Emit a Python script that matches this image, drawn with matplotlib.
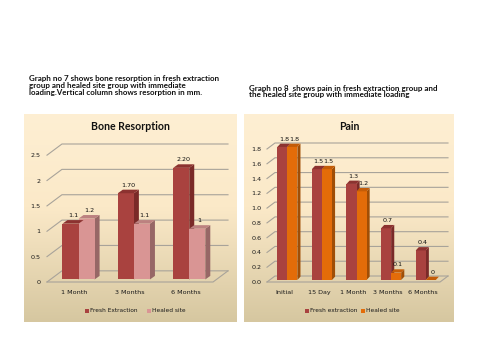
import numpy as np
import matplotlib
matplotlib.use("Agg")
import matplotlib.pyplot as plt
from matplotlib.patches import Polygon, Rectangle
from matplotlib.colors import LinearSegmentedColormap

# ---------------- data ----------------
bone_categories = ["1 Month", "3 Months", "6 Months"]
bone_fresh = [1.1, 1.70, 2.20]
bone_healed = [1.2, 1.1, 1.0]
bone_fresh_labels = ["1.1", "1.70", "2.20"]
bone_healed_labels = ["1.2", "1.1", "1"]
bone_yticks = [0, 0.5, 1, 1.5, 2, 2.5]
bone_yticklabels = ["0", "0.5", "1", "1.5", "2", "2.5"]

pain_categories = ["Initial", "15 Day", "1 Month", "3 Months", "6 Months"]
pain_fresh = [1.8, 1.5, 1.3, 0.7, 0.4]
pain_healed = [1.8, 1.5, 1.2, 0.1, 0.0]
pain_fresh_labels = ["1.8", "1.5", "1.3", "0.7", "0.4"]
pain_healed_labels = ["1.8", "1.5", "1.2", "0.1", "0"]
pain_yticks = [0.0, 0.2, 0.4, 0.6, 0.8, 1.0, 1.2, 1.4, 1.6, 1.8]
pain_yticklabels = ["0.0", "0.2", "0.4", "0.6", "0.8", "1.0", "1.2", "1.4", "1.6", "1.8"]

caption7 = ("Graph no 7 shows bone resorption in fresh extraction\n"
            "group and healed site group with immediate\n"
            "loading.Vertical column shows resorption in mm.")
caption8 = ("Graph no 8  shows pain in fresh extraction group and\n"
            "the healed site group with immediate loading")

W, H = 480, 360
fig = plt.figure(figsize=(4.8, 3.6), dpi=100)
fig.patch.set_facecolor("white")


def rect(x0, y0, x1, y1):
    """pixel box (top-left origin) -> figure fraction rect"""
    return [x0 / W, 1 - y1 / H, (x1 - x0) / W, (y1 - y0) / H]


cmap = LinearSegmentedColormap.from_list(
    "bg", [(0.0, "#FEEFD3"), (0.45, "#FBE9C8"), (1.0, "#D6C7A0")])


def background(box):
    bg = fig.add_axes(rect(*box))
    grad = np.linspace(0, 1, 256).reshape(-1, 1)
    bg.imshow(grad, aspect="auto", cmap=cmap, extent=[0, 1, 0, 1], origin="upper")
    bg.set_axis_off()
    return bg


def draw_chart(box, axbox, ncat, ymax, wall, bar_w, mid, bdepth, cats,
               fresh, healed, flabels, hlabels, yticks, yticklabels,
               c_fresh, c_healed, title, leg_names, leg_x, ytick_pad):
    background(box)
    ax = fig.add_axes(rect(*axbox))
    wdx, wdy = wall
    x0, x1 = -0.5, ncat - 0.5
    ax.set_xlim(x0, x1 + wdx)
    ax.set_ylim(0, ymax + wdy)
    for s in ax.spines.values():
        s.set_visible(False)
    ax.patch.set_alpha(0)
    gcol = "#A8A39A"
    # walls / gridlines
    for v in yticks:
        ax.plot([x0, x0 + wdx, x1 + wdx], [v, v + wdy, v + wdy],
                color=gcol, lw=0.8, clip_on=False, zorder=1)
    ax.plot([x0, x1, x1 + wdx], [0, 0, wdy], color=gcol, lw=0.8,
            clip_on=False, zorder=1)
    # bars
    mdx, mdy = mid
    bdx, bdy = bdepth
    xs = np.arange(ncat)
    for vals, labs, cols, off in ((fresh, flabels, c_fresh, -bar_w),
                                  (healed, hlabels, c_healed, 0.0)):
        front, top, side = cols
        bars = ax.bar(xs + off + mdx, vals, width=bar_w, bottom=mdy,
                      align="edge", color=front, edgecolor="none",
                      zorder=3, clip_on=False)
        for b, lab in zip(bars, labs):
            xl = b.get_x()
            xr = xl + b.get_width()
            yb = b.get_y()
            yt = yb + b.get_height()
            ax.add_patch(Polygon([(xr, yb), (xr + bdx, yb + bdy),
                                  (xr + bdx, yt + bdy), (xr, yt)],
                                 closed=True, color=side, lw=0, zorder=2.9,
                                 clip_on=False))
            ax.add_patch(Polygon([(xl, yt), (xl + bdx, yt + bdy),
                                  (xr + bdx, yt + bdy), (xr, yt)],
                                 closed=True, color=top, lw=0, zorder=3.1,
                                 clip_on=False))
            ax.annotate(lab, ((xl + xr) / 2 + bdx / 2, yt + bdy),
                        xytext=(0, 1.5), textcoords="offset points",
                        ha="center", va="bottom", fontsize=4.6,
                        color="#111111", zorder=5, annotation_clip=False)
    ax.set_yticks(yticks)
    ax.set_yticklabels(yticklabels)
    ax.set_xticks(xs)
    ax.set_xticklabels(cats)
    ax.tick_params(axis="both", length=0, labelsize=4.6, colors="#1a1a1a")
    ax.tick_params(axis="y", pad=ytick_pad)
    ax.tick_params(axis="x", pad=6)
    # title
    bx0, by0, bx1, by1 = box
    fig.text(((bx0 + bx1) / 2) / W, 1 - 126 / H, title, ha="center",
             va="center", fontsize=7.6, fontweight="bold", family="Lato",
             color="#111111")
    # legend
    ly = 311
    for name, col, lx in zip(leg_names, (c_fresh[0], c_healed[0]), leg_x):
        fig.patches.append(Rectangle((lx / W, 1 - (ly + 2) / H), 4 / W, 4 / H,
                                     transform=fig.transFigure,
                                     color=col, lw=0))
        fig.text((lx + 5.5) / W, 1 - ly / H, name, ha="left", va="center",
                 fontsize=4.2, color="#1a1a1a")
    return ax


draw_chart(box=(24, 114, 237, 322), axbox=(47, 144, 228, 282), ncat=3,
           ymax=2.5, wall=(0.27, 0.22), bar_w=0.29, mid=(0.07, 0.05),
           bdepth=(0.09, 0.07), cats=bone_categories, fresh=bone_fresh,
           healed=bone_healed, flabels=bone_fresh_labels,
           hlabels=bone_healed_labels, yticks=bone_yticks,
           yticklabels=bone_yticklabels,
           c_fresh=("#A9423F", "#8C3230", "#7A2A28"),
           c_healed=("#D99594", "#BC8180", "#976766"),
           title="Bone Resorption",
           leg_names=("Fresh Extraction", "Healed site"),
           leg_x=(85, 147), ytick_pad=4.5)

draw_chart(box=(244, 114, 454, 322), axbox=(267, 143, 448, 282), ncat=5,
           ymax=1.8, wall=(0.23, 0.081), bar_w=0.29, mid=(0.087, 0.027),
           bdepth=(0.09, 0.045), cats=pain_categories, fresh=pain_fresh,
           healed=pain_healed, flabels=pain_fresh_labels,
           hlabels=pain_healed_labels, yticks=pain_yticks,
           yticklabels=pain_yticklabels,
           c_fresh=("#A9423F", "#8C3230", "#7A2A28"),
           c_healed=("#E36C09", "#C45C07", "#A04E06"),
           title="Pain",
           leg_names=("Fresh extraction", "Healed site"),
           leg_x=(305, 361), ytick_pad=3.8)

fig.text(29 / W, 1 - 75 / H, caption7, ha="left", va="top", fontsize=5.8,
         fontweight="bold", family="Lato", linespacing=1.0, color="#111111")
fig.text(249 / W, 1 - 84.5 / H, caption8, ha="left", va="top", fontsize=5.8,
         fontweight="bold", family="Lato", linespacing=1.0, color="#111111")

fig.savefig("out.png", dpi=100, facecolor="white")
